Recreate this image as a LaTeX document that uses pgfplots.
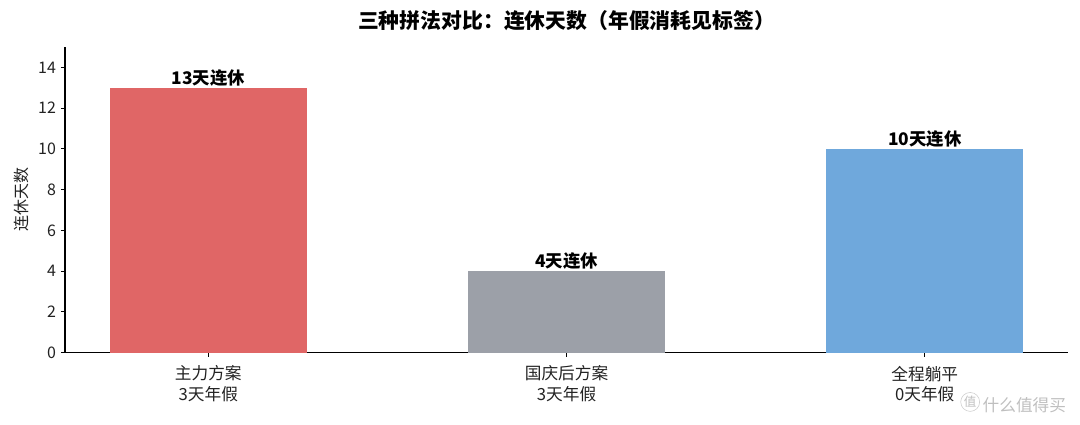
\documentclass[border=0pt]{standalone}
\usepackage{fontspec}
\setmainfont{Noto Sans CJK SC}
\usepackage{pgfplots}
\pgfplotsset{compat=1.18}
\definecolor{barred}{HTML}{E06666}
\definecolor{bargray}{HTML}{9CA0A8}
\definecolor{barblue}{HTML}{6FA8DC}
\definecolor{txt}{HTML}{222222}
\begin{document}
\begin{tikzpicture}
\begin{axis}[
  name=ax,
  scale only axis,
  width=722pt, height=220pt,
  xmin=-0.4, xmax=2.4,
  ymin=0, ymax=15,
  ybar, bar width=0.55, bar shift=0pt,
  axis x line*=bottom, axis y line*=left,
  xtick={0,1,2},
  xticklabels={{主力方案\\3天年假},{国庆后方案\\3天年假},{全程躺平\\0天年假}},
  xticklabel style={align=center, font=\fontsize{12}{14.5}\selectfont, text=txt, yshift=-3pt},
  ytick={0,2,...,14},
  yticklabel style={font=\fontsize{11.5}{12}\selectfont, text=txt},
  /pgf/number format/assume math mode=true,
  tick align=outside, major tick length=3pt,
  tick style={black, line width=0.6pt},
  axis line style={black, line width=0.8pt},
  ylabel={连休天数},
  ylabel style={font=\fontsize{11.5}{12}\selectfont, text=txt},
  title={\bfseries 三种拼法对比：连休天数（年假消耗见标签）},
  title style={font=\fontsize{15}{16}\selectfont, yshift=2pt},
  point meta=explicit symbolic,
  nodes near coords,
  nodes near coords style={font=\fontsize{12.5}{13}\selectfont\bfseries, text=black, inner sep=1pt},
  clip=false,
]
\addplot[fill=barred, draw=none] coordinates {(0,13)[13天连休]};
\addplot[fill=bargray, draw=none] coordinates {(1,4)[4天连休]};
\addplot[fill=barblue, draw=none] coordinates {(2,10)[10天连休]};
\end{axis}
\node[text=black!25, font=\fontsize{12}{12}\selectfont, anchor=west] at ([xshift=-81pt,yshift=-36pt]ax.south east) {\tikz\node[circle, draw=black!20, inner sep=0.5pt, font=\fontsize{9}{9}\selectfont]{值};\,什么值得买};
\useasboundingbox ([xshift=-46.8pt,yshift=-51.8pt]ax.south west) rectangle ([xshift=8.6pt,yshift=33.8pt]ax.north east);
\end{tikzpicture}
\end{document}
